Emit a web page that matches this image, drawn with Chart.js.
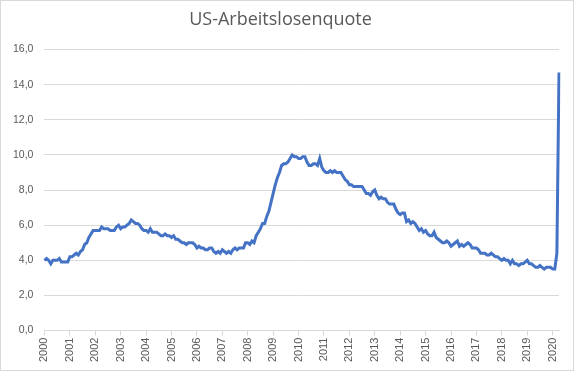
<!DOCTYPE html>
<html>
<head>
<meta charset="utf-8">
<script src="https://cdn.jsdelivr.net/npm/chart.js@4"></script>
<style>
  body { margin: 0; background: #fff; }
  #box { width: 574px; height: 371px; border: 1px solid #d9d9d9; box-sizing: border-box; }
  canvas { display: block; }
</style>
</head>
<body>
<div id="box"><canvas id="chart" width="572" height="369"></canvas></div>
<script>
const title = 'US-Arbeitslosenquote';
const years = ['2000','2001','2002','2003','2004','2005','2006','2007','2008','2009','2010',
               '2011','2012','2013','2014','2015','2016','2017','2018','2019','2020'];

// monthly unemployment rate, Jan 2000 - Apr 2020
const rate2000 = [4.0,4.1,4.0,3.8,4.0,4.0,4.0,4.1,3.9,3.9,3.9,3.9];
const rate2001 = [4.2,4.2,4.3,4.4,4.3,4.5,4.6,4.9,5.0,5.3,5.5,5.7];
const rate2002 = [5.7,5.7,5.7,5.9,5.8,5.8,5.8,5.7,5.7,5.7,5.9,6.0];
const rate2003 = [5.8,5.9,5.9,6.0,6.1,6.3,6.2,6.1,6.1,6.0,5.8,5.7];
const rate2004 = [5.7,5.6,5.8,5.6,5.6,5.6,5.5,5.4,5.4,5.5,5.4,5.4];
const rate2005 = [5.3,5.4,5.2,5.2,5.1,5.0,5.0,4.9,5.0,5.0,5.0,4.9];
const rate2006 = [4.7,4.8,4.7,4.7,4.6,4.6,4.7,4.7,4.5,4.4,4.5,4.4];
const rate2007 = [4.6,4.5,4.4,4.5,4.4,4.6,4.7,4.6,4.7,4.7,4.7,5.0];
const rate2008 = [5.0,4.9,5.1,5.0,5.4,5.6,5.8,6.1,6.1,6.5,6.8,7.3];
const rate2009 = [7.8,8.3,8.7,9.0,9.4,9.5,9.5,9.6,9.8,10.0,9.9,9.9];
const rate2010 = [9.8,9.8,9.9,9.9,9.6,9.4,9.4,9.5,9.5,9.4,9.8,9.3];
const rate2011 = [9.1,9.0,9.0,9.1,9.0,9.1,9.0,9.0,9.0,8.8,8.6,8.5];
const rate2012 = [8.3,8.3,8.2,8.2,8.2,8.2,8.2,8.0,7.8,7.8,7.7,7.9];
const rate2013 = [8.0,7.7,7.5,7.6,7.5,7.5,7.3,7.2,7.2,7.2,6.9,6.7];
const rate2014 = [6.6,6.7,6.7,6.2,6.3,6.1,6.2,6.1,5.9,5.7,5.8,5.6];
const rate2015 = [5.7,5.5,5.4,5.4,5.6,5.3,5.2,5.1,5.0,5.0,5.1,5.0];
const rate2016 = [4.8,4.9,5.0,5.1,4.8,4.9,4.8,4.9,5.0,4.9,4.7,4.7];
const rate2017 = [4.7,4.6,4.4,4.4,4.4,4.3,4.3,4.4,4.3,4.2,4.2,4.1];
const rate2018 = [4.0,4.1,4.0,4.0,3.8,4.0,3.8,3.8,3.7,3.8,3.8,3.9];
const rate2019 = [4.0,3.8,3.8,3.7,3.6,3.6,3.7,3.6,3.5,3.6,3.6,3.6];
const rate2020 = [3.5,3.5,4.4,14.7];

const rates = [].concat(rate2000, rate2001, rate2002, rate2003, rate2004, rate2005, rate2006,
  rate2007, rate2008, rate2009, rate2010, rate2011, rate2012, rate2013, rate2014, rate2015,
  rate2016, rate2017, rate2018, rate2019, rate2020);

// one label per month, only January gets the year shown
const labels = rates.map((_, i) => i % 12 === 0 ? years[i / 12] : '');

const txt = '#595959';
const grid = '#d9d9d9';

new Chart(document.getElementById('chart').getContext('2d'), {
  type: 'line',
  data: {
    labels: labels,
    datasets: [{
      label: title,
      data: rates,
      borderColor: '#4472c4',
      borderWidth: 3,
      pointRadius: 0,
      tension: 0,
      fill: false
    }]
  },
  options: {
    responsive: false,
    animation: false,
    layout: { padding: { left: 1, right: 14, top: 0, bottom: 6 } },
    plugins: {
      legend: { display: false },
      tooltip: { enabled: false },
      title: {
        display: true,
        text: title,
        color: txt,
        font: { family: 'Open Sans', size: 18, weight: 'normal' },
        padding: { top: 8, bottom: 19 }
      }
    },
    scales: {
      x: {
        offset: false,
        grid: {
          drawOnChartArea: false,
          color: grid,
          tickLength: 5
        },
        border: { display: true, color: grid },
        ticks: {
          autoSkip: false,
          maxRotation: 90,
          minRotation: 90,
          color: txt,
          font: { family: 'Liberation Sans', size: 11 },
          padding: 2,
          callback: function (val, i) {
            const l = this.getLabelForValue(val);
            return l === '' ? null : l;
          }
        }
      },
      y: {
        min: 0,
        max: 16,
        grid: { color: grid, drawTicks: false },
        border: { display: false },
        ticks: {
          stepSize: 2,
          color: txt,
          padding: 11,
          font: { family: 'Liberation Sans', size: 10.5 },
          callback: v => v.toFixed(1).replace('.', ',')
        }
      }
    }
  }
});
</script>
</body>
</html>
